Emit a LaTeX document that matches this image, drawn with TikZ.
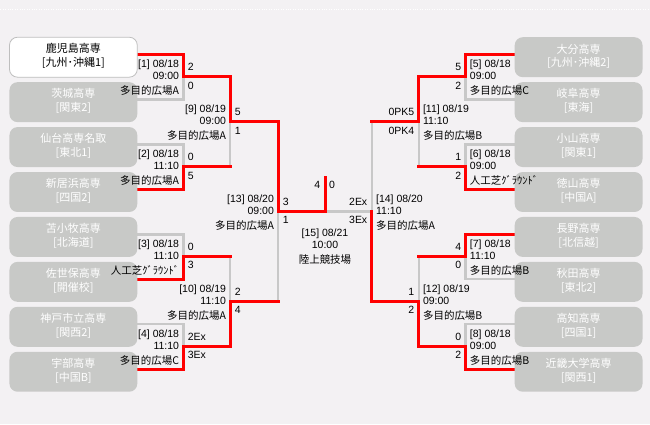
\documentclass[tikz,border=0pt]{standalone}
\usepackage{fontspec}
\setmainfont{Noto Sans CJK JP}
\newfontfamily\lat{Liberation Sans}
\usetikzlibrary{calc}
\definecolor{bg}{RGB}{243,241,243}
\definecolor{boxgray}{RGB}{200,201,199}
\definecolor{linegray}{RGB}{200,200,200}
\definecolor{wborder}{RGB}{190,190,190}
\pgfdeclarelayer{back}
\pgfdeclarelayer{lines}
\pgfsetlayers{back,lines,main}
\tikzset{
 team/.style={rectangle, rounded corners=8pt, minimum width=128pt, minimum height=40pt, inner sep=0pt, fill=boxgray, draw=none},
 seedteam/.style={team, fill=white, draw=wborder, line width=0.8pt},
 teamtxt/.style={inner sep=0pt, text=white, font=\fontsize{11}{13}\selectfont},
 seedteamtxt/.style={teamtxt, text=black},
 info/.style={inner sep=0pt, font=\fontsize{10.5}{12}\selectfont},
 win/.style={draw=red, line width=3pt, line cap=rect},
 lose/.style={draw=linegray, line width=2.6pt},
}
\newcommand\team[6]{%
 \node[#4] (#1) at (#2,#3) {};
 \node[#4txt, anchor=base] (#1a) at ($(#1.north)+(0,16)$) {#5};
 \node[#4txt, anchor=base] (#1b) at ($(#1.north)+(0,29.5)$) {#6};
}
\newcommand\infoL[5]{%
 \node[info, anchor=base east] (#1a) at ($(#2)+(-4,-9)$) {\lat #3};
 \node[info, anchor=base east] (#1b) at ($(#2)+(-4,3.3)$) {\lat #4};
 \node[info, anchor=base east] (#1c) at ($(#2)+(-4,17.8)$) {#5};
}
\newcommand\infoR[5]{%
 \node[info, anchor=base west] (#1a) at ($(#2)+(4,-9)$) {\lat #3};
 \node[info, anchor=base west] (#1b) at ($(#2)+(4,3.3)$) {\lat #4};
 \node[info, anchor=base west] (#1c) at ($(#2)+(4,17.8)$) {#5};
}
\newcommand\scoreL[4]{%
 \node[info, anchor=base west] (#1s) at ($(#2)+(4.5,-5.8)$) {\lat #3};
 \node[info, anchor=base west] (#1t) at ($(#2)+(4.5,12.5)$) {\lat #4};
}
\newcommand\scoreR[4]{%
 \node[info, anchor=base east] (#1s) at ($(#2)+(-4.5,-5.8)$) {\lat #3};
 \node[info, anchor=base east] (#1t) at ($(#2)+(-4.5,12.5)$) {\lat #4};
}
\begin{document}
\begin{tikzpicture}[x=1pt,y=-1pt]
\begin{pgfonlayer}{back}
\fill[bg] (0,0) rectangle (650,425);
\draw[white, line width=1pt, dash pattern=on 1pt off 1.4pt] (0,9.3) -- (650,9.3);
\end{pgfonlayer}
\useasboundingbox (0,0) rectangle (650,425);

% teams left
\team{L1}{73}{57.3}{seedteam}{鹿児島高専}{[九州･沖縄1]}
\team{L2}{73}{102.3}{team}{茨城高専}{[関東2]}
\team{L3}{73}{147.3}{team}{仙台高専名取}{[東北1]}
\team{L4}{73}{192.3}{team}{新居浜高専}{[四国2]}
\team{L5}{73}{237.3}{team}{苫小牧高専}{[北海道]}
\team{L6}{73}{282.3}{team}{佐世保高専}{[開催校]}
\team{L7}{73}{327.3}{team}{神戸市立高専}{[関西2]}
\team{L8}{73}{372.3}{team}{宇部高専}{[中国B]}
% teams right
\team{R1}{579}{57.3}{team}{大分高専}{[九州･沖縄2]}
\team{R2}{579}{102.3}{team}{岐阜高専}{[東海]}
\team{R3}{579}{147.3}{team}{小山高専}{[関東1]}
\team{R4}{579}{192.3}{team}{徳山高専}{[中国A]}
\team{R5}{579}{237.3}{team}{長野高専}{[北信越]}
\team{R6}{579}{282.3}{team}{秋田高専}{[東北2]}
\team{R7}{579}{327.3}{team}{高知高専}{[四国1]}
\team{R8}{579}{372.3}{team}{近畿大学高専}{[関西1]}

% match points
\coordinate (m1) at (183,76.8);
\coordinate (m2) at (183,166.8);
\coordinate (m3) at (183,256.8);
\coordinate (m4) at (183,346.8);
\coordinate (m9) at (230,121.8);
\coordinate (m10) at (230,301.8);
\coordinate (m13) at (278,211.8);
\coordinate (f) at (325,211.8);
\coordinate (ft) at (325,178);
\coordinate (m5) at (466,76.8);
\coordinate (m6) at (466,166.8);
\coordinate (m7) at (466,256.8);
\coordinate (m8) at (466,346.8);
\coordinate (m11) at (419,121.8);
\coordinate (m12) at (419,301.8);
\coordinate (m14) at (372,211.8);

\begin{pgfonlayer}{lines}
\draw[lose] ([yshift=2.7pt]L2.east) -| (m1);
\draw[lose] ([yshift=2.7pt]L3.east) -| (m2);
\draw[lose] (m2 -| m9) -- (m9);
\draw[lose] ([yshift=2.7pt]L5.east) -| (m3);
\draw[lose] (m3 -| m10) -- (m10);
\draw[lose] ([yshift=2.7pt]L7.east) -| (m4);
\draw[lose] (m10 -| m13) -- (m13);
\draw[lose] (f) -- (m14);
\draw[lose] (m11 -| m14) -- (m14);
\draw[lose] ([yshift=2.7pt]R2.west) -| (m5);
\draw[lose] ([yshift=2.7pt]R3.west) -| (m6);
\draw[lose] (m6 -| m11) -- (m11);
\draw[lose] ([yshift=2.7pt]R6.west) -| (m7);
\draw[lose] (m7 -| m12) -- (m12);
\draw[lose] ([yshift=2.7pt]R7.west) -| (m8);

\draw[win] ([yshift=2.7pt]L1.east) -| (m1) -| (m9) -| (m13) -| (ft);
\draw[win] ([yshift=2.7pt]L4.east) -| (m2) -- (m2 -| m9);
\draw[win] ([yshift=2.7pt]L6.east) -| (m3) -- (m3 -| m10);
\draw[win] ([yshift=2.7pt]L8.east) -| (m4) -| (m10) -- (m10 -| m13);
\draw[win] ([yshift=2.7pt]R1.west) -| (m5) -| (m11) -- (m11 -| m14);
\draw[win] ([yshift=2.7pt]R4.west) -| (m6) -- (m6 -| m11);
\draw[win] ([yshift=2.7pt]R5.west) -| (m7) -- (m7 -| m12);
\draw[win] ([yshift=2.7pt]R8.west) -| (m8) -| (m12) -| (m14);
\end{pgfonlayer}

% match info left
\infoL{i1}{m1}{[1] 08/18}{09:00}{多目的広場A}
\scoreL{s1}{m1}{2}{0}
\infoL{i2}{m2}{[2] 08/18}{11:10}{多目的広場A}
\scoreL{s2}{m2}{0}{5}
\infoL{i3}{m3}{[3] 08/18}{11:10}{人工芝ｸﾞﾗｳﾝﾄﾞ}
\scoreL{s3}{m3}{0}{3}
\infoL{i4}{m4}{[4] 08/18}{11:10}{多目的広場C}
\scoreL{s4}{m4}{2Ex}{3Ex}
\infoL{i9}{m9}{[9] 08/19}{09:00}{多目的広場A}
\scoreL{s9}{m9}{5}{1}
\infoL{i10}{m10}{[10] 08/19}{11:10}{多目的広場A}
\scoreL{s10}{m10}{2}{4}
\infoL{i13}{m13}{[13] 08/20}{09:00}{多目的広場A}
\scoreL{s13}{m13}{3}{1}
% match info right
\infoR{i5}{m5}{[5] 08/18}{09:00}{多目的広場C}
\scoreR{s5}{m5}{5}{2}
\infoR{i6}{m6}{[6] 08/18}{09:00}{人工芝ｸﾞﾗｳﾝﾄﾞ}
\scoreR{s6}{m6}{1}{2}
\infoR{i7}{m7}{[7] 08/18}{11:10}{多目的広場B}
\scoreR{s7}{m7}{4}{0}
\infoR{i8}{m8}{[8] 08/18}{09:00}{多目的広場B}
\scoreR{s8}{m8}{0}{2}
\infoR{i11}{m11}{[11] 08/19}{11:10}{多目的広場B}
\scoreR{s11}{m11}{0PK5}{0PK4}
\infoR{i12}{m12}{[12] 08/19}{09:00}{多目的広場B}
\scoreR{s12}{m12}{1}{2}
\infoR{i14}{m14}{[14] 08/20}{11:10}{多目的広場A}
\scoreR{s14}{m14}{2Ex}{3Ex}
% final
\node[info, anchor=base east] (fsa) at ($(ft)+(-4.5,10.3)$) {\lat 4};
\node[info, anchor=base west] (fsb) at ($(ft)+(4,10.3)$) {\lat 0};
\node[info, anchor=base] (fia) at ($(f)+(0,25.2)$) {\lat [15] 08/21};
\node[info, anchor=base] (fib) at ($(f)+(0,37.5)$) {\lat 10:00};
\node[info, anchor=base] (fic) at ($(f)+(0,52.2)$) {陸上競技場};
\end{tikzpicture}
\end{document}
